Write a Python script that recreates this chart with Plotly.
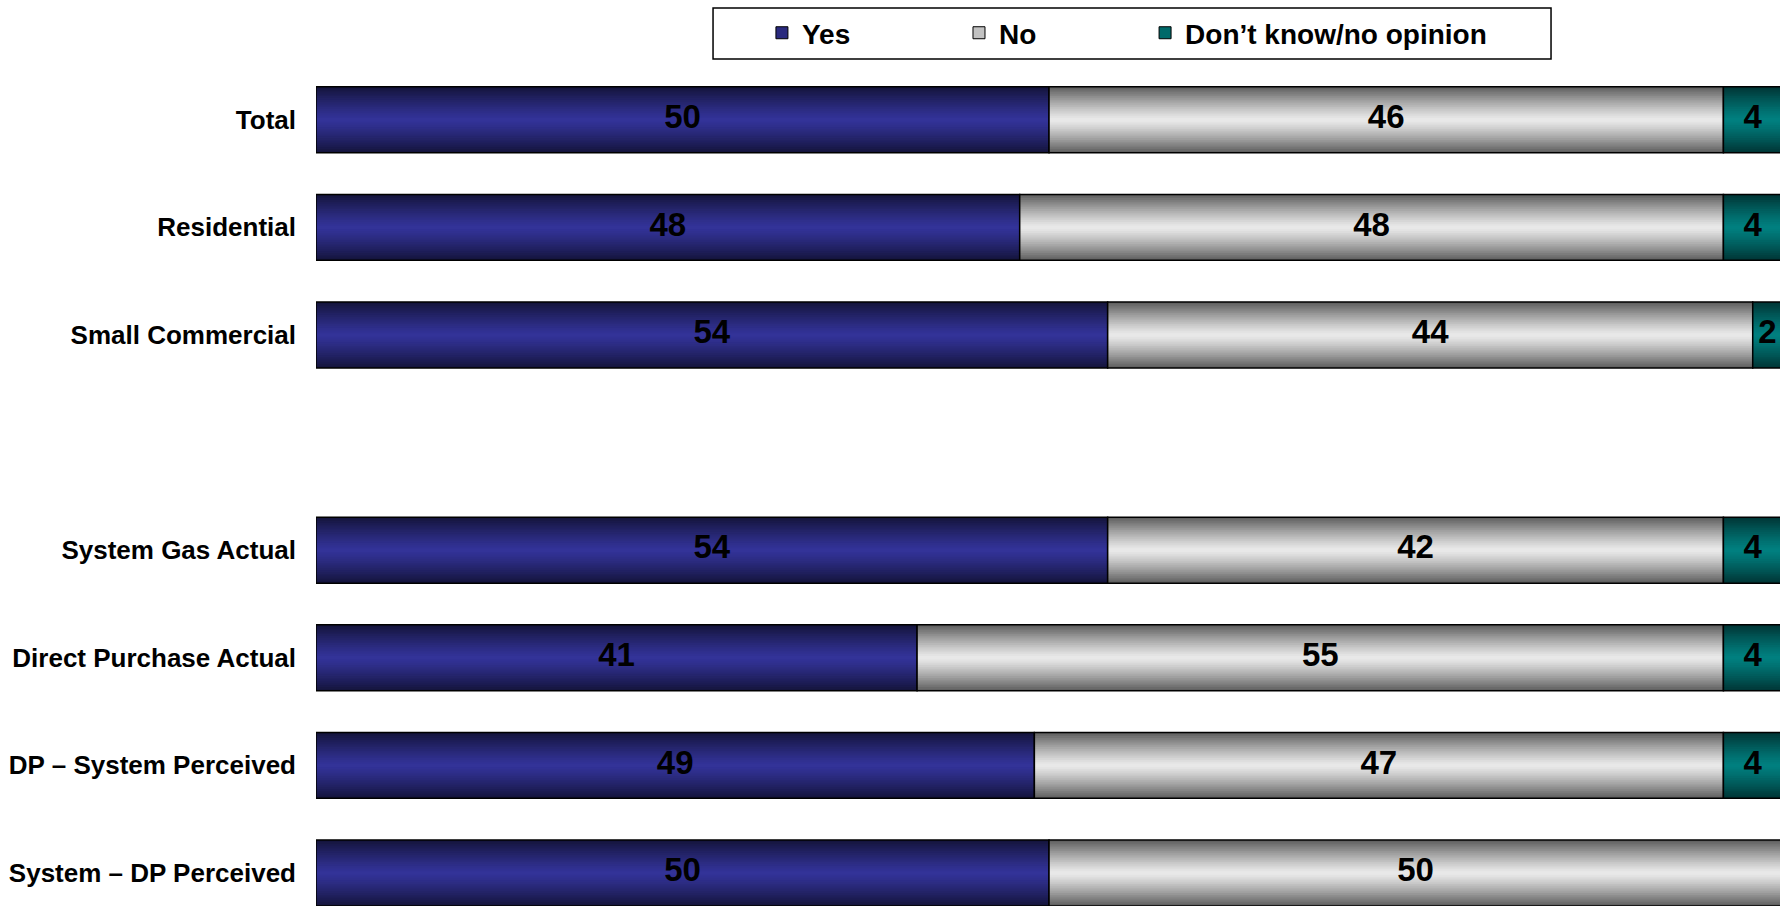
import plotly.graph_objects as go

categories = ["Total", "Residential", "Small Commercial", " ",
              "System Gas Actual", "Direct Purchase Actual",
              "DP – System Perceived", "System – DP Perceived"]
yes = [50, 48, 54, None, 54, 41, 49, 50]
no = [46, 48, 44, None, 42, 55, 47, 50]
dont_know = [4, 4, 2, None, 4, 4, 4, 0]

FONT = "Liberation Sans, Arial, sans-serif"
BAR_W = 0.613
N_LAYERS = 18

# name, values, edge colour, middle colour (vertical "cylinder" shading), legend slot
series = [
    ("Yes", yes, (20, 20, 58), (51, 51, 153), "legend", 0.3046),
    ("No", no, (92, 92, 92), (234, 234, 234), "legend2", 0.4392),
    ("Don’t know/no opinion", dont_know, (0, 52, 52), (0, 128, 128), "legend3", 0.5663),
]


def mix(edge, mid, d, p=1.2):
    t = d ** p
    return "rgb(%d,%d,%d)" % tuple(round(m + (e - m) * t) for e, m in zip(edge, mid))


fig = go.Figure()

base = [0] * len(categories)
legends = {}
for name, vals, edge, mid, leg, leg_x in series:
    xs = [v if v else None for v in vals]
    # shading layers, each one narrower and lighter
    for k in range(N_LAYERS):
        frac = 1 - k / N_LAYERS
        d = 1 - (k + 0.5) / N_LAYERS
        fig.add_trace(go.Bar(
            y=categories, x=xs, base=base, orientation="h",
            width=BAR_W * frac,
            marker=dict(color=mix(edge, mid, d), line=dict(width=0)),
            showlegend=False, hoverinfo="skip",
        ))
    # outline on top
    fig.add_trace(go.Bar(
        y=categories, x=xs, base=base, orientation="h", width=BAR_W,
        marker=dict(color="rgba(0,0,0,0)", line=dict(color="black", width=1.5)),
        showlegend=False, hoverinfo="skip",
    ))
    # legend entry only
    fig.add_trace(go.Bar(
        y=[" "], x=[None], orientation="h", name=name, legend=leg,
        marker=dict(color=mix(edge, mid, 0.35), line=dict(color="black", width=1)),
        hoverinfo="skip",
    ))
    legends[leg] = dict(
        orientation="h", x=leg_x, xanchor="left", y=1.0690, yanchor="top",
        bgcolor="rgba(0,0,0,0)", borderwidth=0,
        font=dict(family=FONT, size=28, color="black", weight="bold"),
    )
    # value labels
    fig.add_trace(go.Scatter(
        y=categories,
        x=[b + v / 2 if v else None for b, v in zip(base, vals)],
        text=[str(v) if v else "" for v in vals],
        mode="text", textfont=dict(family=FONT, size=33, color="black", weight="bold"),
        showlegend=False, hoverinfo="skip", cliponaxis=False,
    ))
    base = [b + (v or 0) for b, v in zip(base, vals)]

fig.update_layout(
    width=1780, height=906,
    barmode="overlay",
    paper_bgcolor="white", plot_bgcolor="rgba(0,0,0,0)",
    margin=dict(l=316, r=0, t=66, b=0),
    font=dict(family=FONT, color="black"),
    xaxis=dict(range=[0, 99.86], visible=False, showgrid=False, zeroline=False, fixedrange=True),
    yaxis=dict(
        type="category", categoryorder="array", categoryarray=categories,
        range=[7.307, -0.5], showgrid=False, zeroline=False, showline=False,
        ticks="", ticklabelstandoff=19, fixedrange=True,
        tickfont=dict(family=FONT, size=26, color="black", weight="bold"),
    ),
    showlegend=True,
    hovermode=False,
    **legends,
)

# legend frame
fig.add_shape(type="rect", xref="paper", yref="paper",
              x0=0.2712, x1=0.8436, y0=1.0083, y1=1.0690,
              line=dict(color="black", width=1.5), fillcolor="rgba(0,0,0,0)")

# drop the default page margin so the figure fills the window exactly
fig.write_html("out.html", config={"displayModeBar": False},
               post_script="document.body.style.margin='0';document.body.style.overflow='hidden';")
